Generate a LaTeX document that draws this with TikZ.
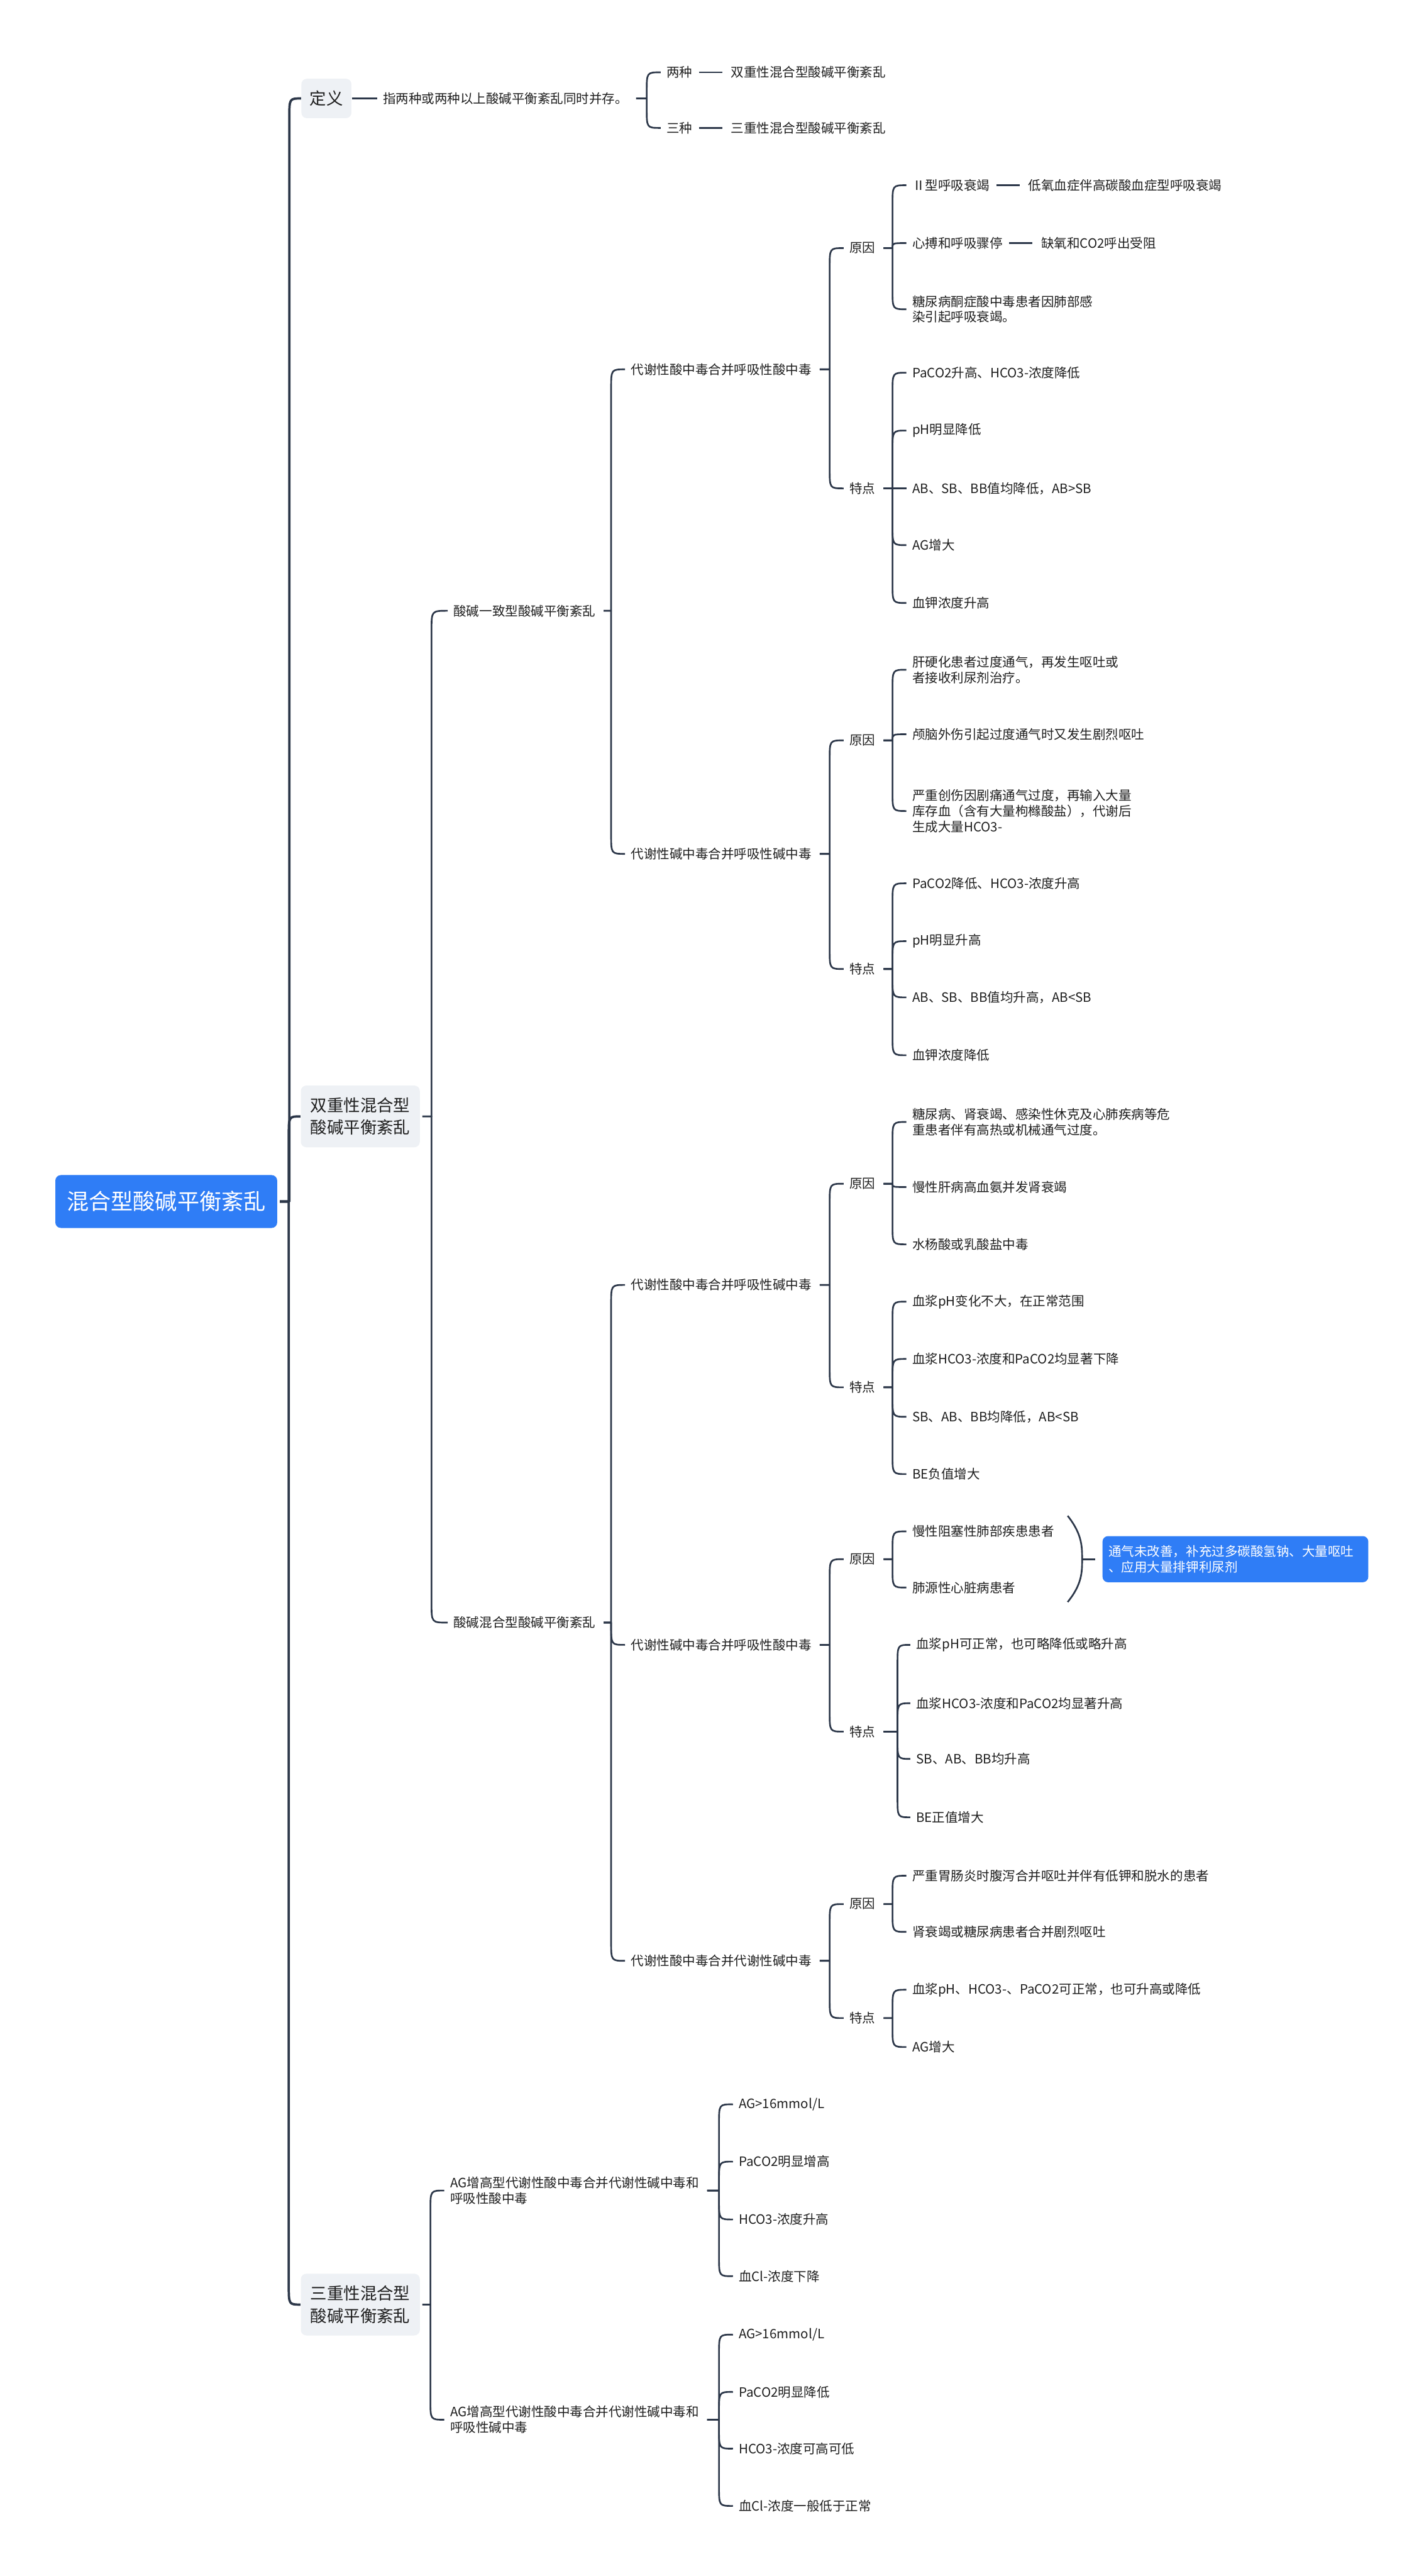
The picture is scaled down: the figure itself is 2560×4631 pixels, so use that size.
\documentclass[tikz,border=0pt]{standalone}
\usepackage{fontspec}
\setmainfont{Noto Sans CJK SC}
\usetikzlibrary{positioning,calc}
\definecolor{wire}{HTML}{2C3749}
\definecolor{hubblue}{HTML}{2F7DF6}
\definecolor{boxgray}{HTML}{EEF1F5}
\definecolor{ink}{HTML}{1F1F1F}

\begin{document}
\begin{tikzpicture}[x=0.1mm, y=-0.1mm, node distance=4.8mm,
  txt/.style={anchor=west, inner xsep=1mm, inner ysep=0.6mm, align=left, text=ink, font=\fontsize{6.6}{8}\selectfont},
  grp/.style={fill=boxgray, rounded corners=1mm, align=center, text=ink, font=\fontsize{8.5}{11.4}\selectfont},
  hub/.style={fill=hubblue, text=white, rounded corners=1mm, minimum width=39.9mm, minimum height=9.5mm, font=\fontsize{11.3}{13}\selectfont},
  note/.style={anchor=west, fill=hubblue, text=white, rounded corners=1mm, inner xsep=1.1mm, minimum height=8.3mm, align=left, font=\fontsize{6.6}{8.2}\selectfont},
  link/.style={draw=wire, line width=0.3mm, line join=round},
  fork/.style={to path={let \p1=(\tikztostart.east), \p2=(\tikztotarget.west), \n1={sign(\y2-\y1)}, \n2={min(10,abs(\y2-\y1))} in (\x1+0.4mm,\y1) -- (\x2-#1,\y1) -- (\x2-#1,{\y2-(\n1)*\n2}) .. controls (\x2-#1,\y2) .. (\tikztotarget.west)}},
  fork/.default=2.5mm]
\path[use as bounding box, fill=white] (0,0) rectangle (2560,4631);

% root and first level
\node[hub] (root) at (299,2160) {混合型酸碱平衡紊乱};
\node[grp, minimum width=9mm, minimum height=7.1mm] (def) at (587,177) {定义};
\node[grp, minimum width=21.4mm, minimum height=11.1mm] (dbl) at (648,2007) {双重性混合型\\酸碱平衡紊乱};
\node[grp, minimum width=21.4mm, minimum height=11.1mm] (tri) at (648,4143) {三重性混合型\\酸碱平衡紊乱};

% definition
\node[txt] (defx) at (678,177) {指两种或两种以上酸碱平衡紊乱同时并存。};
\node[txt] (two) at (1188,130) {两种};
\node[txt, right=of two] (twox) {双重性混合型酸碱平衡紊乱};
\node[txt] (three) at (1188,230) {三种};
\node[txt, right=of three] (threex) {三重性混合型酸碱平衡紊乱};

% consistent type
\node[txt] (cons) at (805,1098) {酸碱一致型酸碱平衡紊乱};
\node[txt] (maRa) at (1124,664) {代谢性酸中毒合并呼吸性酸中毒};
\node[txt] (c1) at (1517,446) {原因};
\node[txt] (c1a) at (1630,333) {Ⅱ型呼吸衰竭};
\node[txt, right=of c1a] (c1ax) {低氧血症伴高碳酸血症型呼吸衰竭};
\node[txt] (c1b) at (1630,437) {心搏和呼吸骤停};
\node[txt, right=of c1b] (c1bx) {缺氧和CO2呼出受阻};
\node[txt] (c1c) at (1630,556) {糖尿病酮症酸中毒患者因肺部感\\染引起呼吸衰竭。};
\node[txt] (f1) at (1517,878) {特点};
\node[txt] (f1a) at (1630,670) {PaCO2升高、HCO3-浓度降低};
\node[txt] (f1b) at (1630,774) {pH明显降低};
\node[txt] (f1c) at (1630,878) {AB、SB、BB值均降低，AB>SB};
\node[txt] (f1d) at (1630,980) {AG增大};
\node[txt] (f1e) at (1630,1084) {血钾浓度升高};

\node[txt] (mkRk) at (1124,1535) {代谢性碱中毒合并呼吸性碱中毒};
\node[txt] (c2) at (1517,1331) {原因};
\node[txt] (c2a) at (1630,1204) {肝硬化患者过度通气，再发生呕吐或\\者接收利尿剂治疗。};
\node[txt] (c2b) at (1630,1320) {颅脑外伤引起过度通气时又发生剧烈呕吐};
\node[txt] (c2c) at (1630,1458) {严重创伤因剧痛通气过度，再输入大量\\库存血（含有大量枸橼酸盐），代谢后\\生成大量HCO3-};
\node[txt] (f2) at (1517,1742) {特点};
\node[txt] (f2a) at (1630,1588) {PaCO2降低、HCO3-浓度升高};
\node[txt] (f2b) at (1630,1692) {pH明显升高};
\node[txt] (f2c) at (1630,1793) {AB、SB、BB值均升高，AB<SB};
\node[txt] (f2d) at (1630,1897) {血钾浓度降低};

% mixed type
\node[txt] (mix) at (805,2917) {酸碱混合型酸碱平衡紊乱};
\node[txt] (maRk) at (1124,2310) {代谢性酸中毒合并呼吸性碱中毒};
\node[txt] (c3) at (1517,2128) {原因};
\node[txt] (c3a) at (1630,2017) {糖尿病、肾衰竭、感染性休克及心肺疾病等危\\重患者伴有高热或机械通气过度。};
\node[txt] (c3b) at (1630,2134) {慢性肝病高血氨并发肾衰竭};
\node[txt] (c3c) at (1630,2237) {水杨酸或乳酸盐中毒};
\node[txt] (f3) at (1517,2494) {特点};
\node[txt] (f3a) at (1630,2340) {血浆pH变化不大，在正常范围};
\node[txt] (f3b) at (1630,2443) {血浆HCO3-浓度和PaCO2均显著下降};
\node[txt] (f3c) at (1630,2547) {SB、AB、BB均降低，AB<SB};
\node[txt] (f3d) at (1630,2650) {BE负值增大};

\node[txt] (mkRa) at (1124,2957) {代谢性碱中毒合并呼吸性酸中毒};
\node[txt] (c4) at (1517,2803) {原因};
\node[txt] (c4a) at (1630,2753) {慢性阻塞性肺部疾患患者};
\node[txt] (c4b) at (1630,2854) {肺源性心脏病患者};
\node[txt] (f4) at (1517,3113) {特点};
\node[txt] (f4a) at (1637,2957) {血浆pH可正常，也可略降低或略升高};
\node[txt] (f4b) at (1637,3062) {血浆HCO3-浓度和PaCO2均显著升高};
\node[txt] (f4c) at (1637,3162) {SB、AB、BB均升高};
\node[txt] (f4d) at (1637,3267) {BE正值增大};
\node[note, text width=45.6mm] (tip) at (1982,2803) {通气未改善，补充过多碳酸氢钠、大量呕吐\\、应用大量排钾利尿剂};

\node[txt] (maMk) at (1124,3525) {代谢性酸中毒合并代谢性碱中毒};
\node[txt] (c5) at (1517,3423) {原因};
\node[txt] (c5a) at (1630,3372) {严重胃肠炎时腹泻合并呕吐并伴有低钾和脱水的患者};
\node[txt] (c5b) at (1630,3473) {肾衰竭或糖尿病患者合并剧烈呕吐};
\node[txt] (f5) at (1517,3628) {特点};
\node[txt] (f5a) at (1630,3577) {血浆pH、HCO3-、PaCO2可正常，也可升高或降低};
\node[txt] (f5b) at (1630,3680) {AG增大};

% triple type
\node[txt] (t1) at (799,3938) {AG增高型代谢性酸中毒合并代谢性碱中毒和\\呼吸性酸中毒};
\node[txt] (t1a) at (1318,3783) {AG>16mmol/L};
\node[txt] (t1b) at (1318,3886) {PaCO2明显增高};
\node[txt] (t1c) at (1318,3990) {HCO3-浓度升高};
\node[txt] (t1d) at (1318,4092) {血Cl-浓度下降};
\node[txt] (t2) at (799,4350) {AG增高型代谢性酸中毒合并代谢性碱中毒和\\呼吸性碱中毒};
\node[txt] (t2a) at (1318,4197) {AG>16mmol/L};
\node[txt] (t2b) at (1318,4300) {PaCO2明显降低};
\node[txt] (t2c) at (1318,4402) {HCO3-浓度可高可低};
\node[txt] (t2d) at (1318,4505) {血Cl-浓度一般低于正常};

% connectors
\draw[link, line width=0.42mm] (root) edge[fork=2.1mm] (def) edge[fork=2.1mm] (dbl) edge[fork=2.1mm] (tri);
\draw[link] (def) -- (defx);
\draw[link] (defx) edge[fork] (two) edge[fork] (three);
\draw[link, shorten <=0.1mm, shorten >=0.5mm] (two) -- (twox);
\draw[link, shorten <=0.1mm, shorten >=0.5mm] (three) -- (threex);
\draw[link] (dbl) edge[fork=2.9mm] (cons) edge[fork=2.9mm] (mix);
\draw[link] (cons) edge[fork] (maRa) edge[fork] (mkRk);
\draw[link] (maRa) edge[fork] (c1) edge[fork] (f1);
\draw[link] (c1) edge[fork] (c1a) edge[fork] (c1b) edge[fork] (c1c);
\draw[link, shorten <=0.1mm, shorten >=0.5mm] (c1a) -- (c1ax);
\draw[link, shorten <=0.1mm, shorten >=0.5mm] (c1b) -- (c1bx);
\draw[link] (f1) edge[fork] (f1a) edge[fork] (f1b) edge[fork] (f1c) edge[fork] (f1d) edge[fork] (f1e);
\draw[link] (mkRk) edge[fork] (c2) edge[fork] (f2);
\draw[link] (c2) edge[fork] (c2a) edge[fork] (c2b) edge[fork] (c2c);
\draw[link] (f2) edge[fork] (f2a) edge[fork] (f2b) edge[fork] (f2c) edge[fork] (f2d);
\draw[link] (mix) edge[fork] (maRk) edge[fork] (mkRa) edge[fork] (maMk);
\draw[link] (maRk) edge[fork] (c3) edge[fork] (f3);
\draw[link] (c3) edge[fork] (c3a) edge[fork] (c3b) edge[fork] (c3c);
\draw[link] (f3) edge[fork] (f3a) edge[fork] (f3b) edge[fork] (f3c) edge[fork] (f3d);
\draw[link] (mkRa) edge[fork] (c4) edge[fork] (f4);
\draw[link] (c4) edge[fork] (c4a) edge[fork] (c4b);
\draw[link] (f4) edge[fork=2.3mm] (f4a) edge[fork=2.3mm] (f4b) edge[fork=2.3mm] (f4c) edge[fork=2.3mm] (f4d);
\draw[link] (maMk) edge[fork] (c5) edge[fork] (f5);
\draw[link] (c5) edge[fork] (c5a) edge[fork] (c5b);
\draw[link] (f5) edge[fork] (f5a) edge[fork] (f5b);
\draw[link] (tri) edge[fork] (t1) edge[fork] (t2);
\draw[link] (t1) edge[fork] (t1a) edge[fork] (t1b) edge[fork] (t1c) edge[fork] (t1d);
\draw[link] (t2) edge[fork] (t2a) edge[fork] (t2b) edge[fork] (t2c) edge[fork] (t2d);

% summary bracket
\coordinate (sumtop) at (1920,2725);
\coordinate (sumtip) at (1946,2803);
\coordinate (sumbot) at (1920,2880);
\draw[link] (sumtop) .. controls (1946,2758) and (1946,2780) .. (sumtip) .. controls (1946,2826) and (1946,2848) .. (sumbot);
\draw[link, shorten >=1.2mm] (sumtip) -- (tip);
\end{tikzpicture}
\end{document}
